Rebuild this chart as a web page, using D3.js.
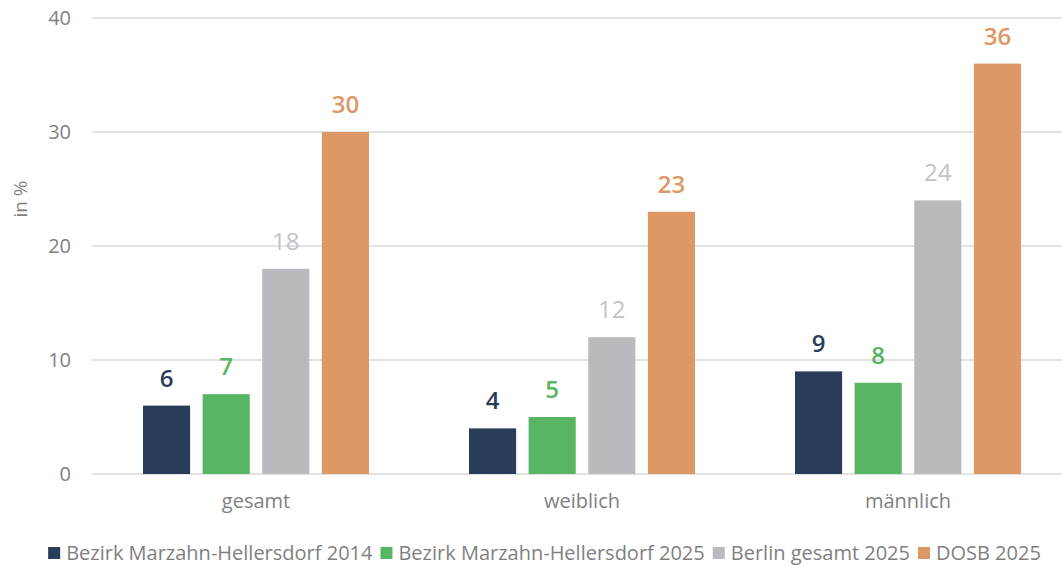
<!DOCTYPE html>
<html>
<head>
<meta charset="utf-8">
<script src="https://cdn.jsdelivr.net/npm/d3@7"></script>
<style>
  body { margin: 0; background: #fff; }
  text { font-family: 'Open Sans', 'Noto Sans', sans-serif; }
</style>
</head>
<body>
<div id="chart"></div>
<script>
// Data
var categories = ['gesamt', 'weiblich', 'männlich'];
var seriesNames = [
  'Bezirk Marzahn-Hellersdorf 2014',
  'Bezirk Marzahn-Hellersdorf 2025',
  'Berlin gesamt 2025',
  'DOSB 2025'
];
var values2014 = [6, 4, 9];
var values2025 = [7, 5, 8];
var valuesBerlin = [18, 12, 24];
var valuesDosb = [30, 23, 36];
var yTicks = [0, 10, 20, 30, 40];

var seriesValues = [values2014, values2025, valuesBerlin, valuesDosb];
var colors = ['#293d5a', '#58b563', '#b9babd', '#dd9865'];
var labelColors = ['#293d5a', '#58b563', '#c2c3c6', '#dd9865'];

function init() {
  var w = 1062;
  var h = 566;

  var svg = d3.select('#chart')
    .append('svg')
    .attr('width', w)
    .attr('height', h);

  // Scales
  var x0 = d3.scaleBand()
    .domain(categories)
    .range([93, 1071]);

  var x1 = d3.scaleBand()
    .domain(d3.range(seriesNames.length))
    .range([50, 276])
    .paddingInner(0.21)
    .paddingOuter(0);

  var y = d3.scaleLinear()
    .domain([0, 40])
    .range([474, 18]);

  // Gridlines
  svg.append('g')
    .selectAll('line')
    .data(yTicks)
    .enter()
    .append('line')
    .attr('x1', 92)
    .attr('x2', w)
    .attr('y1', function (d) { return y(d); })
    .attr('y2', function (d) { return y(d); })
    .attr('stroke', '#d9d9d9')
    .attr('stroke-width', 1.5);

  // Y axis labels
  var yAxis = d3.axisLeft(y).tickValues(yTicks).tickSize(0).tickPadding(0);
  var gy = svg.append('g')
    .attr('transform', 'translate(71, 0)')
    .call(yAxis);
  gy.select('.domain').remove();
  gy.selectAll('text')
    .attr('fill', '#7f7f7f')
    .style('font-size', '20px')
    .style('font-family', "'Open Sans', sans-serif");

  // Y axis title
  svg.append('text')
    .attr('transform', 'translate(27, 199) rotate(-90)')
    .attr('text-anchor', 'middle')
    .attr('fill', '#7f7f7f')
    .style('font-size', '19px')
    .text('in %');

  // X axis labels
  var xAxis = d3.axisBottom(x0).tickSize(0).tickPadding(0);
  var gx = svg.append('g')
    .attr('transform', 'translate(0, 494)')
    .call(xAxis);
  gx.select('.domain').remove();
  gx.selectAll('text')
    .attr('fill', '#7f7f7f')
    .style('font-size', '20px')
    .style('font-family', "'Open Sans', sans-serif");

  // Bars
  var groups = svg.selectAll('.grp')
    .data(categories)
    .enter()
    .append('g')
    .attr('class', 'grp')
    .attr('transform', function (d) { return 'translate(' + x0(d) + ',0)'; });

  groups.each(function (cat, ci) {
    var g = d3.select(this);
    seriesValues.forEach(function (vals, si) {
      var v = vals[ci];
      g.append('rect')
        .attr('x', x1(si))
        .attr('y', y(v))
        .attr('width', x1.bandwidth())
        .attr('height', y(0) - y(v))
        .attr('fill', colors[si]);

      g.append('text')
        .attr('x', x1(si) + x1.bandwidth() / 2)
        .attr('y', y(v) - 19)
        .attr('text-anchor', 'middle')
        .attr('fill', labelColors[si])
        .style('font-size', '24px')
        .style('font-weight', si === 2 ? 400 : 600)
        .text(v);
    });
  });

  // Legend (centered)
  var legend = svg.append('g');
  var lx = 0;
  seriesNames.forEach(function (name, i) {
    legend.append('rect')
      .attr('x', lx)
      .attr('y', 547)
      .attr('width', 12)
      .attr('height', 12)
      .attr('fill', colors[i]);
    var t = legend.append('text')
      .attr('x', lx + 18)
      .attr('y', 560)
      .attr('fill', '#7f7f7f')
      .style('font-size', '20px')
      .text(name);
    lx += 18 + t.node().getComputedTextLength() + 8;
  });
  var legendW = lx - 8;
  legend.attr('transform', 'translate(' + (544.5 - legendW / 2) + ',0)');
}

window.onload = init;
</script>
</body>
</html>
